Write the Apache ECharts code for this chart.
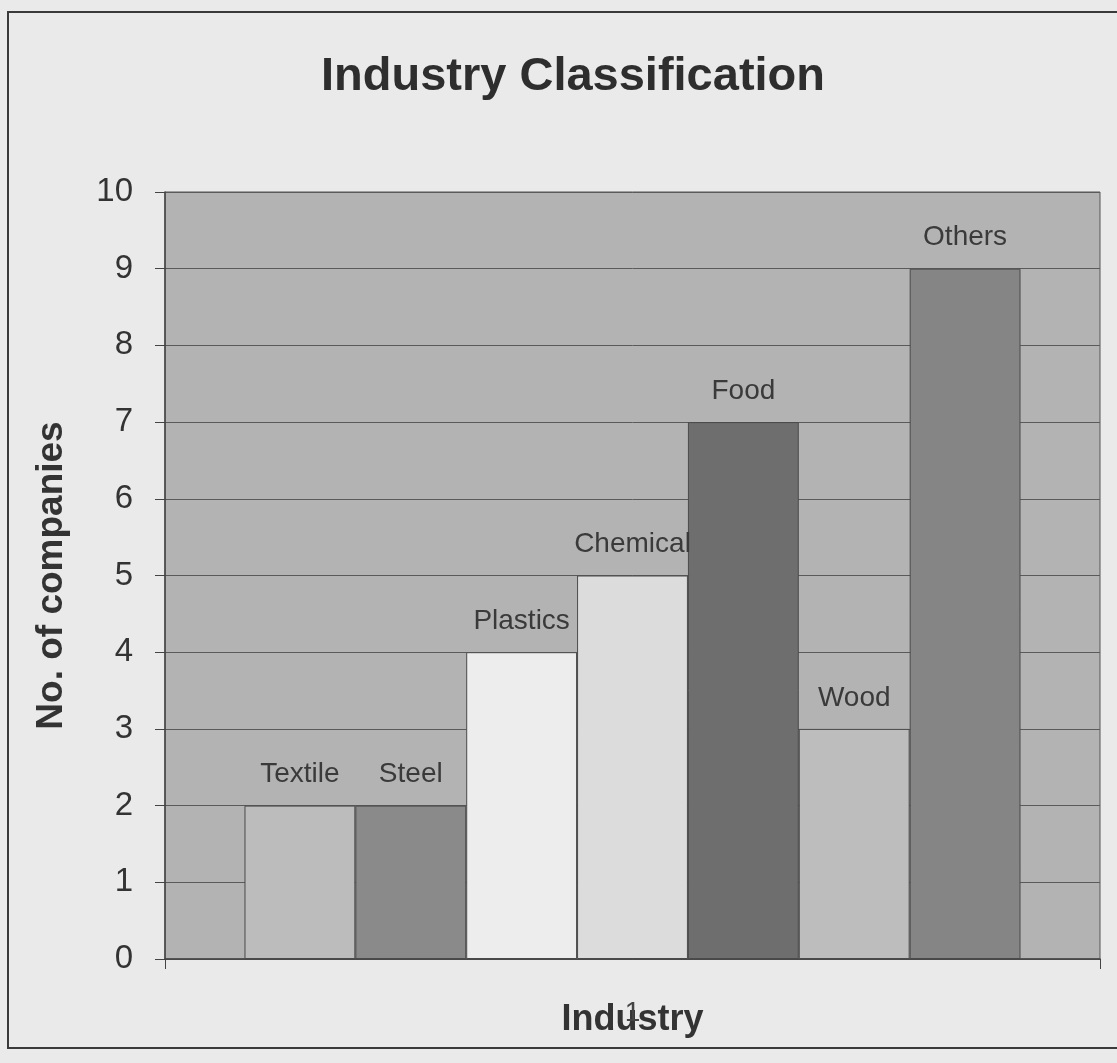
<!DOCTYPE html>
<html>
<head>
<meta charset="utf-8">
<style>
html,body{margin:0;padding:0;background:#e9e9e9;}
#chart{width:1117px;height:1063px;}
</style>
<script src="https://cdn.jsdelivr.net/npm/echarts@6/dist/echarts.min.js"></script>
</head>
<body>
<div id="chart"></div>
<script>
var categories = ['1'];
var industries = ['Textile', 'Steel', 'Plastics', 'Chemical', 'Food', 'Wood', 'Others'];
var companies = [2, 2, 4, 5, 7, 3, 9];
var barColors = ['#bcbcbc', '#8a8a8a', '#ededed', '#dcdcdc', '#6e6e6e', '#bdbdbd', '#858585'];
var yTicks = [0, 1, 2, 3, 4, 5, 6, 7, 8, 9, 10];

var font = 'Liberation Sans, Arial, sans-serif';
var chart = echarts.init(document.getElementById('chart'));

var series = industries.map(function (name, i) {
  return {
    name: name,
    type: 'bar',
    data: [companies[i]],
    barGap: '0%',
    barCategoryGap: '17%',
    itemStyle: { color: barColors[i], borderColor: '#4a4a4a', borderWidth: 1 },
    label: {
      show: true,
      position: 'top',
      distance: 17,
      formatter: '{a}',
      fontFamily: font,
      fontSize: 28,
      color: '#3a3a3a'
    }
  };
});

chart.setOption({
  backgroundColor: '#eaeaea',
  animation: false,
  title: {
    text: 'Industry Classification',
    left: 568,
    textAlign: 'center',
    top: 49,
    textStyle: { fontFamily: font, fontSize: 47, fontWeight: 'bold', color: '#2e2e2e' }
  },
  graphic: [{
    type: 'rect',
    shape: { x: 8, y: 12, width: 1130, height: 1036 },
    style: { fill: 'none', stroke: '#3a3a3a', lineWidth: 2 },
    silent: true
  }],
  grid: {
    left: 165, right: 17, top: 192, bottom: 104,
    outerBoundsMode: 'none',
    containLabel: false,
    show: true,
    backgroundColor: '#b3b3b3',
    borderColor: '#555555',
    borderWidth: 1
  },
  xAxis: {
    type: 'category',
    data: categories,
    name: 'Industry',
    nameLocation: 'middle',
    nameGap: 43,
    nameMoveOverlap: false,
    nameTextStyle: { fontFamily: font, fontSize: 36, fontWeight: 'bold', color: '#333' },
    axisLine: { lineStyle: { color: '#444', width: 1.5 } },
    axisTick: { show: true, length: 10, lineStyle: { color: '#444' } },
    axisLabel: { margin: 40, fontFamily: font, fontSize: 28, color: '#444' }
  },
  yAxis: {
    type: 'value',
    min: yTicks[0],
    max: yTicks[yTicks.length - 1],
    interval: 1,
    name: 'No. of companies',
    nameLocation: 'middle',
    nameRotate: 90,
    nameGap: 95,
    nameMoveOverlap: false,
    nameTextStyle: { fontFamily: font, fontSize: 37, fontWeight: 'bold', color: '#333' },
    axisLine: { show: true, lineStyle: { color: '#444', width: 1.5 } },
    axisTick: { show: true, length: 10, lineStyle: { color: '#444' } },
    axisLabel: { margin: 32, fontFamily: font, fontSize: 33, color: '#333' },
    splitLine: { show: true, lineStyle: { color: '#5a5a5a', width: 1 } }
  },
  series: series
});
</script>
</body>
</html>
